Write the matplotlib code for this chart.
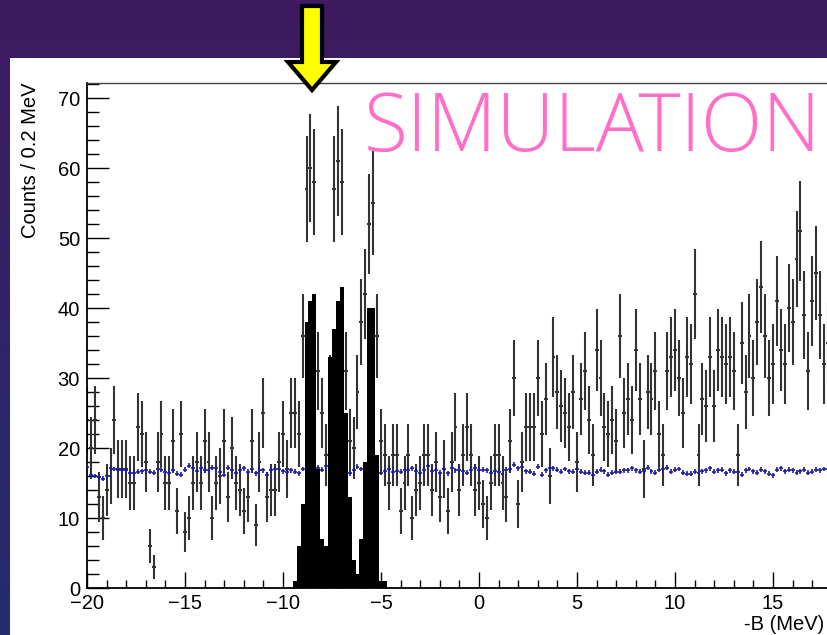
import numpy as np
import matplotlib
matplotlib.use("Agg")
import matplotlib.pyplot as plt
from matplotlib.patches import Rectangle, Polygon
from matplotlib.ticker import MultipleLocator

# ---------------- data ----------------
bin_width = 0.2
first_center = -20.0

# measured spectrum (counts per 0.2 MeV), bins centred at -20.0, -19.8, ... 17.8
data_counts = [
    24, 20, 24, 13, 10, 14, 16, 24, 17, 17,
    17, 15, 15, 23, 22, 18, 6, 3, 18, 22,
    15, 15, 21, 11, 22, 8, 10, 15, 18, 15,
    21, 18, 10, 15, 16, 21, 13, 20, 15, 14,
    11, 13, 21, 9, 18, 25, 13, 14, 14, 18,
    22, 17, 25, 25, 22, 36, 57, 60, 58, 31,
    25, 19, 28, 57, 61, 58, 31, 21, 20, 28,
    38, 42, 52, 55, 36, 21, 19, 15, 19, 19,
    11, 15, 19, 10, 14, 15, 19, 19, 14, 18,
    13, 17, 11, 18, 23, 14, 19, 23, 19, 14,
    15, 12, 10, 15, 19, 19, 15, 13, 21, 30,
    12, 18, 23, 23, 23, 30, 22, 27, 16, 33,
    28, 26, 25, 23, 28, 18, 27, 31, 24, 19,
    34, 30, 23, 22, 24, 21, 36, 25, 27, 24,
    34, 27, 17, 28, 27, 31, 22, 19, 31, 33,
    34, 30, 25, 33, 32, 42, 19, 27, 26, 33,
    26, 34, 33, 32, 33, 31, 19, 35, 28, 36,
    30, 38, 43, 36, 30, 32, 41, 34, 32, 40,
    38, 47, 51, 39, 31, 41, 45, 39, 32, 35,
]

# background estimate (blue), same binning
bkg_counts = [
    17.3, 16.2, 16.0, 15.8, 15.6, 16.0, 17.1, 17.0, 16.9, 16.8,
    16.8, 16.5, 16.4, 16.6, 16.7, 16.8, 16.6, 16.5, 17.0, 16.9,
    16.6, 16.5, 16.9, 16.3, 16.2, 16.9, 17.5, 17.2, 16.7, 17.1,
    16.8, 16.8, 17.2, 17.1, 16.6, 16.2, 17.2, 16.9, 16.5, 16.9,
    17.1, 16.6, 17.0, 16.4, 16.9, 16.8, 16.2, 16.9, 17.0, 17.0,
    16.7, 16.6, 16.8, 16.6, 16.4, 17.0, 17.1, 16.9, 16.8, 17.2,
    16.9, 17.4, 16.6, 16.8, 17.2, 16.5, 16.7, 16.4, 16.8, 17.3,
    17.0, 16.6, 16.9, 17.1, 16.7, 16.5, 16.7, 17.0, 16.6, 16.7,
    16.6, 16.9, 16.9, 17.1, 16.7, 16.5, 16.8, 17.4, 16.7, 16.9,
    16.5, 17.0, 16.4, 17.2, 16.8, 16.9, 16.7, 16.5, 16.9, 17.2,
    16.8, 16.9, 16.8, 16.5, 16.7, 16.6, 16.3, 16.9, 17.0, 17.6,
    17.1, 17.3, 16.7, 16.6, 16.3, 17.3, 16.2, 16.8, 17.1, 17.1,
    16.9, 16.6, 17.0, 16.7, 16.6, 17.0, 16.6, 16.5, 16.5, 16.2,
    16.6, 16.9, 16.7, 16.2, 16.5, 16.6, 16.6, 16.8, 16.8, 17.1,
    16.8, 16.6, 16.7, 17.2, 16.7, 16.5, 16.9, 17.0, 17.2, 16.6,
    16.9, 17.0, 16.5, 16.3, 16.3, 16.6, 16.4, 16.7, 16.8, 17.1,
    16.6, 16.8, 16.9, 16.4, 16.8, 16.6, 16.6, 16.2, 16.8, 17.0,
    16.7, 16.5, 16.9, 16.7, 16.3, 16.1, 16.9, 17.1, 16.7, 16.9,
    16.8, 16.5, 16.7, 16.9, 16.5, 16.6, 16.9, 16.8, 17.0, 17.0,
]
bkg_err = 0.35

# simulated signal (black filled histogram), bins starting at -9.5 MeV
sig_first_edge = -9.5
sig_counts = [1, 6, 12, 38, 41, 42, 17, 7, 6, 33, 37, 41, 43, 25, 13, 4, 2,
              7, 18, 40, 40, 19, 1, 1]

x_ticks = [-20, -15, -10, -5, 0, 5, 10, 15]
y_ticks = [0, 10, 20, 30, 40, 50, 60, 70]
x_label = "-B (MeV)"
y_label = "Counts / 0.2 MeV"
stamp = "SIMULATION"

# ---------------- figure ----------------
W, H = 827, 635
fig = plt.figure(figsize=(W / 100, H / 100), dpi=100)
FONT = "Liberation Sans"

# slide background
bg = fig.add_axes([0, 0, 1, 1], zorder=-5)
bg.set_axis_off()
t = np.linspace(0, 1, 200)[:, None, None]
top = np.array([62, 26, 96]) / 255.0
bot = np.array([36, 44, 112]) / 255.0
grad = top * (1 - t) + bot * t
grad = np.repeat(grad, 4, axis=1)
bg.imshow(grad, extent=[0, W, H, 0], aspect="auto")
bg.set_xlim(0, W)
bg.set_ylim(H, 0)
bg.add_patch(Rectangle((10, 58), W - 10, H - 58, facecolor="white", edgecolor="none"))

# main axes
ax_left, ax_bottom_px, ax_top_px = 87, 588, 82.6
xmin, xmax = -20, 20
ymin, ymax = 0, 72.2
px_per_mev = 19.6
ax_w = (xmax - xmin) * px_per_mev
ax = fig.add_axes([ax_left / W, (H - ax_bottom_px) / H, ax_w / W, (ax_bottom_px - ax_top_px) / H])
ax.set_facecolor("none")
ax.set_xlim(xmin, xmax)
ax.set_ylim(ymin, ymax)

centers = first_center + bin_width * np.arange(len(data_counts))
dc = np.array(data_counts, dtype=float)
ax.errorbar(centers, dc, yerr=np.sqrt(dc), xerr=bin_width / 2, fmt="none",
            ecolor="#333333", elinewidth=1.5, capsize=0, zorder=2)

bcent = first_center + bin_width * np.arange(len(bkg_counts))
ax.errorbar(bcent, bkg_counts, yerr=bkg_err, xerr=bin_width / 2, fmt="none",
            ecolor="#1e1ea0", elinewidth=1.2, capsize=0, zorder=3)

sig_edges = sig_first_edge + bin_width * np.arange(len(sig_counts) + 1)
ax.stairs(sig_counts, sig_edges, fill=True, color="black", zorder=4)

# axes styling
for s in ["left", "bottom"]:
    ax.spines[s].set_linewidth(1.3)
    ax.spines[s].set_color("black")
ax.spines["top"].set_linewidth(1.0)
ax.spines["top"].set_color("#444444")
ax.spines["right"].set_visible(False)

ax.set_xticks(x_ticks)
ax.set_yticks(y_ticks)
ax.xaxis.set_minor_locator(MultipleLocator(1))
ax.yaxis.set_minor_locator(MultipleLocator(2))
ax.tick_params(axis="x", which="major", direction="in", length=11.5, width=1.0,
               labelsize=14.5, pad=4, colors="black")
ax.tick_params(axis="x", which="minor", direction="in", length=5.8, width=1.0)
ax.tick_params(axis="y", which="major", direction="in", length=16, width=1.0,
               labelsize=14.5, pad=5)
ax.tick_params(axis="y", which="minor", direction="in", length=8.6, width=1.0)
for lab in ax.get_xticklabels() + ax.get_yticklabels():
    lab.set_fontfamily(FONT)

fig.text(31 / W, 1 - 83 / H, y_label, rotation=90, ha="center", va="top",
         fontsize=14.5, family=FONT)
fig.text(824 / W, 1 - 625 / H, x_label, ha="right", va="center",
         fontsize=14.5, family=FONT)

# SIMULATION stamp
fig.text(364 / W, 1 - 151 / H, stamp, ha="left", va="baseline", fontsize=58,
         color="#ff6ec7", family="Open Sans", fontweight="light", zorder=10)

# yellow arrow marker
arrow_px = [(302, 6), (322, 6), (322, 62), (336, 62), (312, 90), (288, 62), (302, 62)]
arrow_fig = [(x / W, 1 - y / H) for x, y in arrow_px]
fig.add_artist(Polygon(arrow_fig, closed=True, facecolor="#ffff00", edgecolor="black",
                       linewidth=3, joinstyle="miter", transform=fig.transFigure, zorder=10))

fig.savefig("out.png", dpi=100)
